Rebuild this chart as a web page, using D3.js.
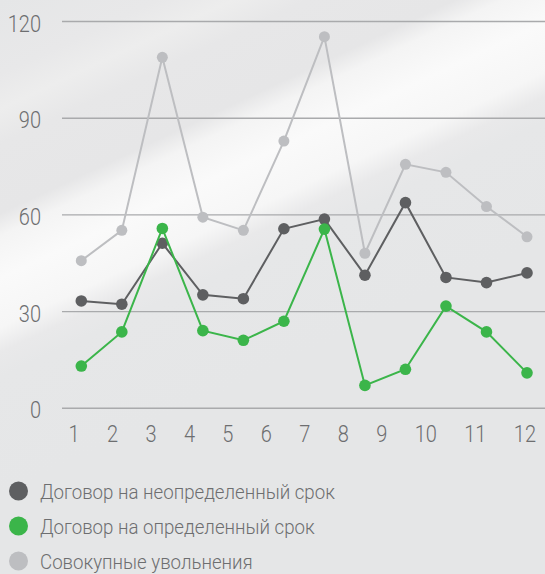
<!DOCTYPE html>
<html>
<head>
<meta charset="utf-8">
<script src="https://cdn.jsdelivr.net/npm/d3@7"></script>
<style>
  html, body { margin: 0; padding: 0; background: #e6e7e8; }
  svg { display: block; }
  text { font-family: Roboto, "Noto Sans", sans-serif; font-weight: 300; fill: #6d6e70; }
</style>
</head>
<body>
<div id="chart"></div>
<script>
// months on the x axis
let months = [1, 2, 3, 4, 5, 6, 7, 8, 9, 10, 11, 12];

// series values
let permanent = [33.3, 32.3, 51.2, 35.2, 34.0, 55.7, 58.7, 41.3, 63.8, 40.6, 39.0, 42.0];
let fixedTerm = [13.1, 23.7, 55.8, 24.1, 21.1, 27.0, 55.6, 7.1, 12.1, 31.7, 23.7, 11.0];
let total = [45.8, 55.2, 108.9, 59.3, 55.2, 82.9, 115.3, 48.1, 75.7, 73.2, 62.6, 53.2];

let yTicks = [0, 30, 60, 90, 120];

let seriesNames = ["Договор на неопределенный срок", "Договор на определенный срок", "Совокупные увольнения"];
let seriesColors = ["#5e5f61", "#3bb54a", "#bdbec1"];

let width = 545, height = 574;
let squeeze = 0.87; // narrow the font a bit, original uses a condensed face

let svg = d3.select("#chart").append("svg")
    .attr("width", width)
    .attr("height", height);

//*************************************************************************************
// BACKGROUND WITH DIAGONAL LIGHT STRIPE
let defs = svg.append("defs");
let grad = defs.append("linearGradient")
    .attr("id", "bg")
    .attr("gradientUnits", "userSpaceOnUse")
    .attr("x1", 0).attr("y1", 0)
    .attr("x2", 191).attr("y2", 407);

let stops = [
    [0, "#e5e6e7"], [0.15, "#e8e8e9"], [0.22, "#ededed"], [0.29, "#e7e7e8"],
    [0.43, "#e6e6e7"], [0.475, "#f4f4f4"], [0.56, "#fafafa"], [0.66, "#f6f6f6"],
    [0.71, "#e9e9ea"], [0.76, "#e6e7e8"], [1, "#e5e6e7"]
];
grad.selectAll("stop").data(stops).enter().append("stop")
    .attr("offset", d => d[0])
    .attr("stop-color", d => d[1]);

svg.append("rect")
    .attr("width", width).attr("height", height)
    .attr("fill", "url(#bg)");

//*************************************************************************************
// SCALES
let x = d3.scalePoint().domain(months).range([81.3, 527]);
let y = d3.scaleLinear().domain([0, 120]).range([408.3, 21.5]);

// grid lines and y labels
let grid = svg.append("g");
grid.selectAll("line").data(yTicks).enter().append("line")
    .attr("x1", 62).attr("x2", width)
    .attr("y1", d => y(d)).attr("y2", d => y(d))
    .attr("stroke", "#a9aaac")
    .attr("stroke-width", 1.4);

grid.selectAll("text").data(yTicks).enter().append("text")
    .attr("transform", d => "translate(41," + (y(d) + 10) + ") scale(" + squeeze + ",1)")
    .attr("text-anchor", "end")
    .style("font-size", "23px")
    .text(d => d);

// x labels spread across the width with equal gaps between them
let xLabels = svg.append("g").selectAll("text").data(months).enter().append("text")
    .style("font-size", "23px")
    .text(d => d);

let widths = [];
xLabels.each(function () { widths.push(this.getComputedTextLength() * squeeze); });
let left = 68.5, right = 536;
let gap = (right - left - d3.sum(widths)) / (months.length - 1);
let pos = left;
xLabels.attr("transform", function (d, i) {
    let t = "translate(" + pos + ",442) scale(" + squeeze + ",1)";
    pos += widths[i] + gap;
    return t;
});

//*************************************************************************************
// LINES AND DOTS
let line = d3.line()
    .x((d, i) => x(months[i]))
    .y(d => y(d));

let allSeries = [total, permanent, fixedTerm];
let allColors = [seriesColors[2], seriesColors[0], seriesColors[1]];
let radii = [5.5, 5.8, 5.8];

allSeries.forEach((values, k) => {
    svg.append("path")
        .datum(values)
        .attr("d", line)
        .attr("fill", "none")
        .attr("stroke", allColors[k])
        .attr("stroke-width", 2);

    svg.append("g").selectAll("circle").data(values).enter().append("circle")
        .attr("cx", (d, i) => x(months[i]))
        .attr("cy", d => y(d))
        .attr("r", radii[k])
        .attr("fill", allColors[k]);
});

//*************************************************************************************
// LEGEND
let legend = svg.append("g").selectAll("g").data(seriesNames).enter().append("g")
    .attr("transform", (d, i) => "translate(0," + (491 + i * 35) + ")");

legend.append("circle")
    .attr("cx", 18.5).attr("cy", 0).attr("r", 9.5)
    .attr("fill", (d, i) => seriesColors[i]);

legend.append("text")
    .attr("transform", "translate(40,7.5) scale(0.89,1)")
    .style("font-size", "21px")
    .text(d => d);
</script>
</body>
</html>
